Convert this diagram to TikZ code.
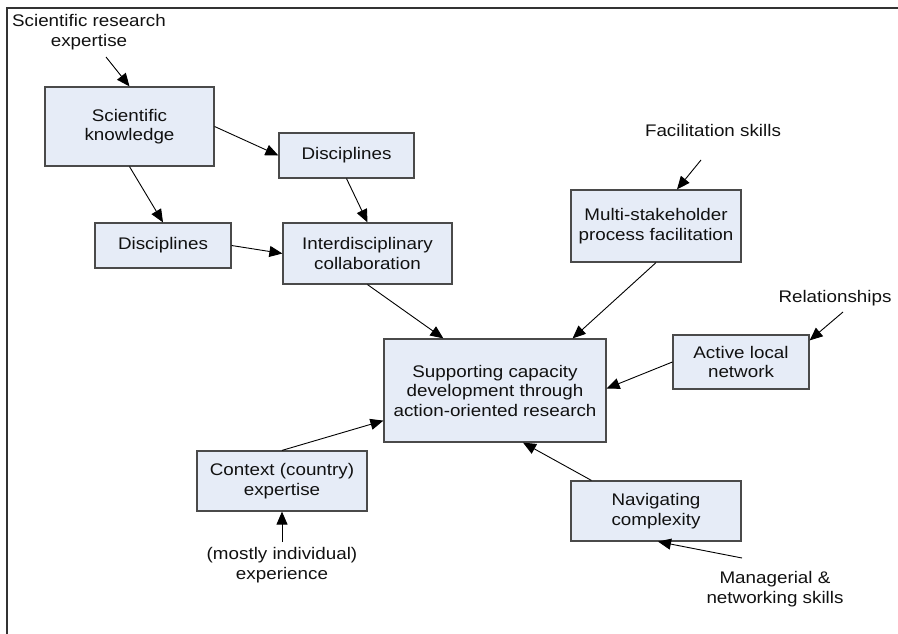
\documentclass[tikz,border=0pt]{standalone}
\usepackage{fontspec}
\setmainfont{Liberation Sans}[FakeStretch=1.12]
\usetikzlibrary{arrows.meta,calc}
\definecolor{boxfill}{HTML}{E6ECF7}
\definecolor{boxline}{HTML}{4A4A4A}
\definecolor{txt}{HTML}{111111}
\begin{document}
\begin{tikzpicture}[x=1pt,y=-1pt,
  font=\fontsize{16.8}{19.5}\selectfont,
  box/.style={draw=boxline,line width=1.2pt,fill=boxfill,align=center,inner sep=0pt,text=txt},
  lbl/.style={align=center,inner sep=0pt,text=txt},
  arr/.style={draw=black,line width=0.9pt,-{Triangle[length=13pt,width=11pt]}}]
\useasboundingbox (0,0) rectangle (898,634);
\draw[line width=1.4pt,color=black!80] (7,640) -- (7,8) -- (905,8);

% boxes
\node[box,minimum width=169pt,minimum height=79pt] (sk) at (129.5,126.5) {Scientific\\knowledge};
\node[box,minimum width=135pt,minimum height=45pt] (d1) at (346.5,155.5) {Disciplines};
\node[box,minimum width=136pt,minimum height=45pt] (d2) at (163,245.5) {Disciplines};
\node[box,minimum width=169pt,minimum height=61pt] (ic) at (367.5,253.5) {Interdisciplinary\\collaboration};
\node[box,minimum width=170pt,minimum height=72pt] (msp) at (656,226) {Multi-stakeholder\\process facilitation};
\node[box,minimum width=222pt,minimum height=103pt] (supp) at (495,390.5) {Supporting capacity\\development through\\action-oriented research};
\node[box,minimum width=136pt,minimum height=54pt] (aln) at (741,362) {Active local\\network};
\node[box,minimum width=170pt,minimum height=60pt] (ctx) at (282,481) {Context (country)\\expertise};
\node[box,minimum width=170pt,minimum height=60pt] (nav) at (656,511) {Navigating\\complexity};

% free labels
\node[lbl] (sre) at (89,32) {Scientific research\\expertise};
\node[lbl] (fac) at (713,130) {Facilitation skills};
\node[lbl] (rel) at (835,298) {Relationships};
\node[lbl] (exp) at (282,565) {(mostly individual)\\experience};
\node[lbl] (man) at (775,589) {Managerial \&\\networking skills};

% free arrow ends
\coordinate (sreE) at (106,57);
\coordinate (facE) at (701,160);
\coordinate (relE) at (843,312);
\coordinate (expE) at (282,542);
\coordinate (manE) at (742,558);

% connectors
\draw[arr] (sreE) -- (sk.north);
\draw[arr] (sk.east) -- (d1.west);
\draw[arr] (sk.south) -- (d2.north);
\draw[arr] (d2.east) -- (ic.west);
\draw[arr] (d1.south) -- (ic.north);
\draw[arr] (ic.south) -- ($(supp.north west)+(60,0)$);
\draw[arr] (msp.south) -- ($(supp.north east)+(-34,0)$);
\draw[arr] (aln.west) -- ($(supp.east)+(0,-2)$);
\draw[arr] (relE) -- ($(aln.north east)+(0,6)$);
\draw[arr] (facE) -- ($(msp.north)+(21,0)$);
\draw[arr] (ctx.north) -- ($(supp.south west)+(0,-22)$);
\draw[arr] (expE) -- (ctx.south);
\draw[arr] ($(nav.north west)+(21,0)$) -- ($(supp.south)+(28,0)$);
\draw[arr] (manE) -- ($(nav.south)+(2,0)$);
\end{tikzpicture}
\end{document}
